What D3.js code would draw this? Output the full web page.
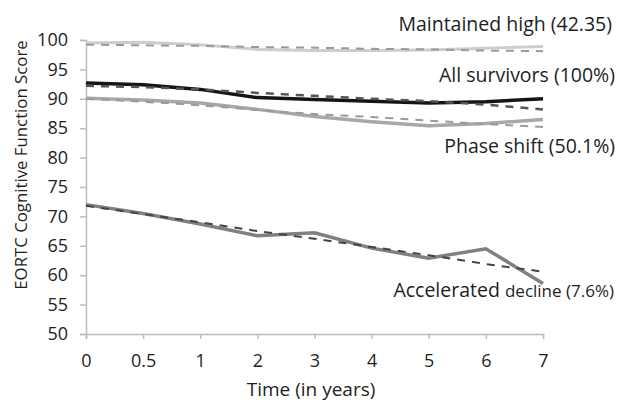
<!DOCTYPE html>
<html>
<head>
<meta charset="utf-8">
<script src="https://cdn.jsdelivr.net/npm/d3@7"></script>
<style>
  body { margin: 0; background: #fff; }
  text { font-family: "Open Sans", "Noto Sans", sans-serif; fill: #1e1e1e; }
</style>
</head>
<body>
<script>
const width = 623;
const height = 403;

// time points (years) – evenly spaced categories on the chart
const years = ['0', '0.5', '1', '2', '3', '4', '5', '6', '7'];
const yTicks = [50, 55, 60, 65, 70, 75, 80, 85, 90, 95, 100];

// observed (solid) and fitted (dashed) scores
const maintainedHigh   = [99.5, 99.6, 99.2, 98.4, 98.2, 98.2, 98.3, 98.6, 98.9];
const maintainedFit    = [99.2, 99.1, 99.0, 98.8, 98.7, 98.5, 98.4, 98.2, 98.1];
const allSurvivors     = [92.7, 92.4, 91.6, 90.2, 89.9, 89.6, 89.3, 89.5, 90.0];
const allSurvivorsFit  = [92.2, 92.0, 91.6, 91.0, 90.5, 90.0, 89.6, 89.0, 88.2];
const phaseShift       = [90.1, 89.8, 89.3, 88.2, 87.0, 86.1, 85.4, 85.8, 86.5];
const phaseShiftFit    = [90.0, 89.5, 88.9, 88.1, 87.4, 86.9, 86.3, 85.7, 85.2];
const accelerated      = [72.0, 70.5, 68.7, 66.7, 67.2, 64.6, 62.9, 64.5, 58.6];
const acceleratedFit   = [71.8, 70.4, 69.0, 67.5, 66.2, 64.8, 63.4, 61.9, 60.6];

const svg = d3.select('body')
              .append('svg')
              .attr('width', width)
              .attr('height', height);

const x = d3.scalePoint().domain(years).range([86, 543]);
const y = d3.scaleLinear().domain([50, 100]).range([334, 40]);

// axes
const yAxis = svg.append('g')
                 .attr('transform', 'translate(86,0)')
                 .call(d3.axisLeft(y).tickValues(yTicks).tickSize(6).tickPadding(12));
const xAxis = svg.append('g')
                 .attr('transform', 'translate(0,334)')
                 .call(d3.axisBottom(x).tickSize(5).tickPadding(15));

[yAxis, xAxis].forEach(g => {
  g.select('.domain').attr('stroke', '#bdbdbd').attr('stroke-width', 1.5);
  g.selectAll('.tick line').attr('stroke', '#bdbdbd').attr('stroke-width', 1.5);
  g.selectAll('.tick text')
   .attr('font-size', 18)
   .attr('font-family', '"Open Sans", sans-serif')
   .attr('fill', '#1e1e1e');
});

const line = d3.line()
               .x((d, i) => x(years[i]))
               .y(d => y(d));

const series = [
  {values: maintainedHigh,  color: '#cdcdcd', w: 3,   dash: null},
  {values: maintainedFit,   color: '#9a9a9a', w: 2,   dash: '8,7'},
  {values: phaseShift,      color: '#a8a8a8', w: 3.5, dash: null},
  {values: phaseShiftFit,   color: '#9a9a9a', w: 2,   dash: '8,7'},
  {values: allSurvivors,    color: '#151515', w: 3.5, dash: null},
  {values: allSurvivorsFit, color: '#555555', w: 2.5, dash: '8,7'},
  {values: accelerated,     color: '#808080', w: 3.5, dash: null},
  {values: acceleratedFit,  color: '#444444', w: 2,   dash: '8,7'}
];

svg.selectAll('path.series')
   .data(series)
   .enter().append('path')
   .attr('class', 'series')
   .attr('d', d => line(d.values))
   .attr('fill', 'none')
   .attr('stroke', d => d.color)
   .attr('stroke-width', d => d.w)
   .attr('stroke-dasharray', d => d.dash);

// group labels
const labels = [
  {text: 'Maintained high (42.35)', x: 612, y: 31},
  {text: 'All survivors (100%)',    x: 615, y: 82},
  {text: 'Phase shift (50.1%)',     x: 615, y: 153}
];
svg.selectAll('text.label')
   .data(labels)
   .enter().append('text')
   .attr('class', 'label')
   .attr('x', d => d.x)
   .attr('y', d => d.y)
   .attr('text-anchor', 'end')
   .attr('font-size', 19.5)
   .text(d => d.text);

const acc = svg.append('text')
               .attr('x', 614)
               .attr('y', 297)
               .attr('text-anchor', 'end')
               .attr('font-size', 19.5);
acc.append('tspan').text('Accelerated ');
acc.append('tspan').attr('font-size', 17).text('decline (7.6%)');

// axis titles
svg.append('text')
   .attr('x', 311)
   .attr('y', 396)
   .attr('text-anchor', 'middle')
   .attr('font-size', 19)
   .text('Time (in years)');

svg.append('text')
   .attr('transform', 'translate(27,165) rotate(-90)')
   .attr('text-anchor', 'middle')
   .attr('font-size', 16.8)
   .text('EORTC Cognitive Function Score');
</script>
</body>
</html>
